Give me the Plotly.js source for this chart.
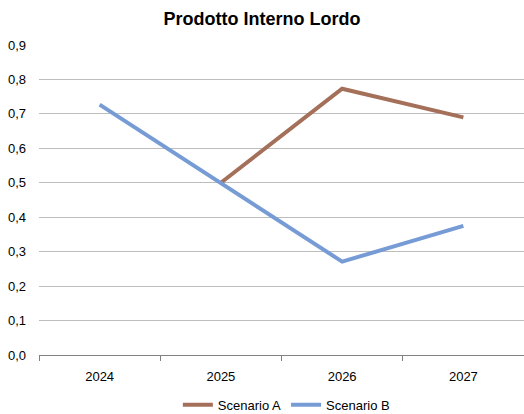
<!DOCTYPE html>
<html><head><meta charset="utf-8">
<script src="https://cdn.plot.ly/plotly-3.0.1.min.js"></script>
<style>html,body{margin:0;padding:0;background:#fff}#c{width:524px;height:414px}</style>
</head><body><div id="c"></div>
<script>
const years = ['2024', '2025', '2026', '2027'];
const scenarioA = [null, 0.50, 0.773, 0.69];
const scenarioB = [0.727, 0.50, 0.271, 0.375];
const yTicks = [0, 0.1, 0.2, 0.3, 0.4, 0.5, 0.6, 0.7, 0.8, 0.9];
const yTickLabels = ['0,0', '0,1', '0,2', '0,3', '0,4', '0,5', '0,6', '0,7', '0,8', '0,9'];

const F = '"Liberation Sans", Arial, sans-serif';
const data = [
  {x: years, y: scenarioA, name: 'Scenario A', type: 'scatter', mode: 'lines',
   line: {color: '#A5705A', width: 4}, connectgaps: false},
  {x: years, y: scenarioB, name: 'Scenario B', type: 'scatter', mode: 'lines',
   line: {color: '#779CD5', width: 4}}
];
const layout = {
  width: 524, height: 414,
  margin: {l: 39, r: 0, t: 45, b: 59},
  paper_bgcolor: '#fff', plot_bgcolor: '#fff',
  font: {family: F, size: 12, color: '#000'},
  title: {text: '<b>Prodotto Interno Lordo</b>', x: 0.5, xanchor: 'center', y: 0.955, yanchor: 'middle',
          font: {family: F, size: 18, color: '#000'}},
  xaxis: {type: 'category', showgrid: false, showline: true, linecolor: '#808080', linewidth: 1,
          ticks: 'outside', ticklen: 5, tickcolor: '#808080', tickson: 'boundaries',
          ticklabelstandoff: 9, automargin: false,
          tickfont: {family: F, size: 13}, fixedrange: true, range: [-0.5, 3.5]},
  yaxis: {range: [0, 0.9], tickvals: yTicks, ticktext: yTickLabels, showgrid: true,
          gridcolor: '#BDBDBD', gridwidth: 1, zeroline: false, showline: false,
          ticks: '', ticklabelstandoff: 12, tickfont: {family: F, size: 13}, fixedrange: true},
  showlegend: true,
  legend: {orientation: 'h', x: 0.51, xanchor: 'center', yref: 'container', y: 0.022, yanchor: 'middle',
           font: {family: F, size: 13}, itemwidth: 30, tracegroupgap: 0},
};
Plotly.newPlot('c', data, layout, {staticPlot: true});
</script></body></html>
